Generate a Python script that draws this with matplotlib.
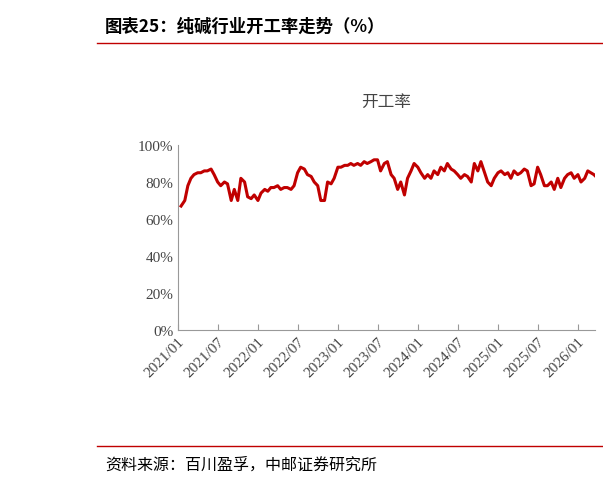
import matplotlib
matplotlib.use('Agg')
import matplotlib.pyplot as plt
import matplotlib.dates as mdates
import pandas as pd
import numpy as np

values = [67,70,78,82,84,85,85,86,86,87,84,80,78,80,79,70,76,70,82,80,72,71,73,70,
          74,76,75,77,77,78,76,77,77,76,78,85,88,87,84,83,80,78,70,70,80,79,82,88,
          88,89,89,90,89,90,89,91,90,91,92,92,86,90,91,84,82,76,80,73,82,86,90,88,
          85,82,84,82,86,84,88,86,90,87,86,84,82,84,83,80,90,86,91,85,80,78,82,85,
          86,84,85,82,86,84,85,87,86,78,79,88,84,78,78,80,76,82,77,82,84,85,82,84,
          80,82,86,85,84,82]
dates = pd.date_range('2021-01-04', periods=len(values), freq='SMS')
tick_labels = ['2021/01','2021/07','2022/01','2022/07','2023/01','2023/07','2024/01',
               '2024/07','2025/01','2025/07','2026/01']
tick_dates = pd.to_datetime([t.replace('/', '-') + '-01' for t in tick_labels])

W, H = 603, 485
fig = plt.figure(figsize=(W/100, H/100), dpi=100)
cjk = ['Noto Sans CJK SC', 'DejaVu Sans']
serif = ['Liberation Serif', 'Noto Sans CJK SC']

fig.text(105/W, 1-27/H, '图表25：纯碱行业开工率走势（%）', family=cjk, fontsize=12.5,
         fontweight='bold', va='center', ha='left')
fig.add_artist(plt.Line2D([97/W, 1], [1-44/H]*2, color='#c00000', lw=1))
fig.add_artist(plt.Line2D([97/W, 1], [1-447/H]*2, color='#c00000', lw=1))
fig.text(105/W, 1-465/H, '资料来源：百川盈孚，中邮证券研究所', family=cjk, fontsize=11.5,
         va='center', ha='left')

ax = fig.add_axes([178/W, 1-331/H, (595-178)/W, (331-146)/H])
ax.plot(dates, values, color='#c00000', lw=2.2)
ax.set_ylim(0, 100)
ax.set_xlim(pd.Timestamp('2021-01-01'), pd.Timestamp('2026-03-20'))
ax.set_yticks(range(0, 101, 20))
ax.set_yticklabels([f'{v}%' for v in range(0, 101, 20)], family=serif, fontsize=11, color='#444444')
ax.set_xticks(tick_dates)
ax.set_xticklabels(tick_labels, rotation=45, ha='right', rotation_mode='anchor',
                   family=serif, fontsize=11, color='#444444')
for s in ['top', 'right']:
    ax.spines[s].set_visible(False)
for s in ['left', 'bottom']:
    ax.spines[s].set_color('#999999')
ax.tick_params(axis='y', length=0)
ax.tick_params(axis='x', length=4, color='#999999', direction='in')
ax.set_title('开工率', family=cjk, fontsize=12, color='#444444', pad=28)
fig.savefig('out.png', dpi=100)
